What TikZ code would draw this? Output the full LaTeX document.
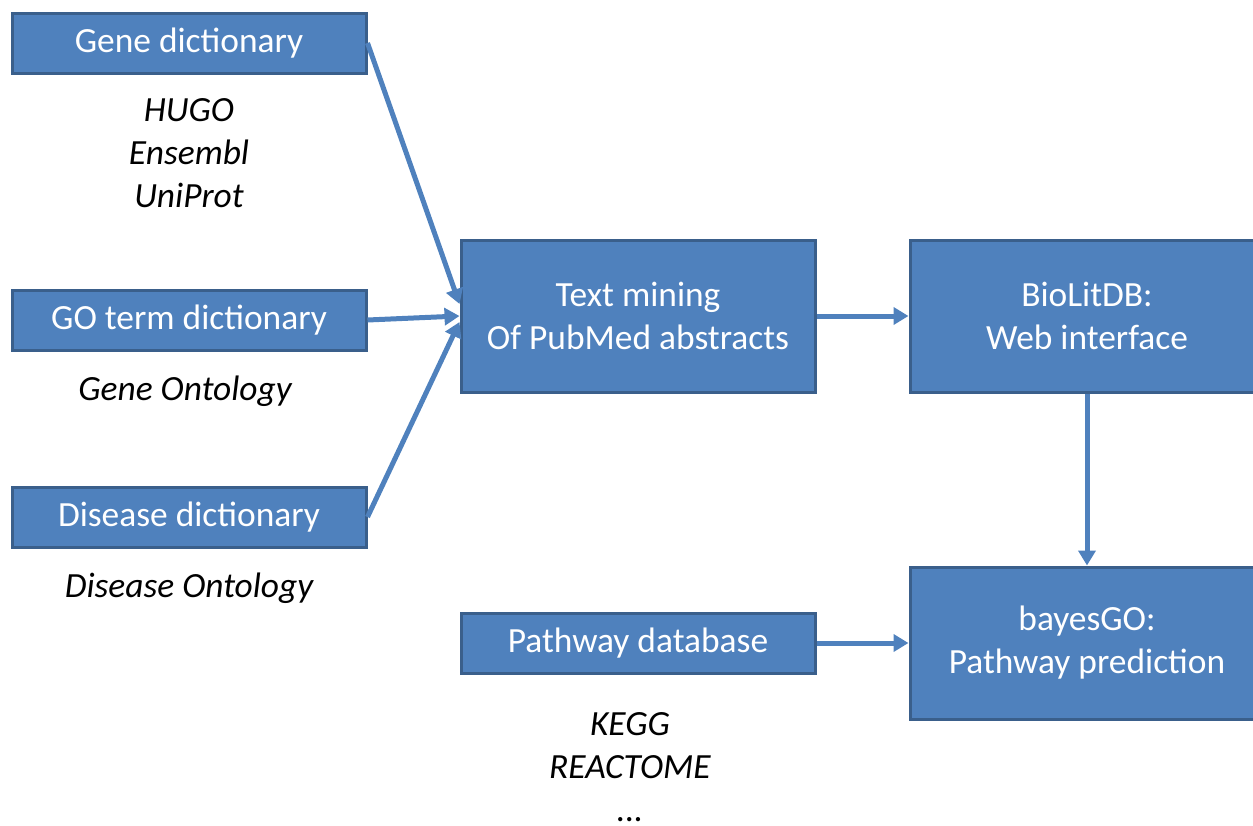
\documentclass[tikz,border=0pt]{standalone}
\usepackage{fontspec}
\setmainfont{Carlito}
\usetikzlibrary{arrows.meta, positioning}
\definecolor{boxblue}{HTML}{4F81BD}
\definecolor{boxedge}{HTML}{3A5F8B}

\begin{document}
\begin{tikzpicture}[x=0.5pt, y=-0.5pt,
  box/.style={draw=boxedge, fill=boxblue, line width=1.5pt, text=white,
    font=\fontsize{17.7}{21.5}\selectfont, align=center,
    minimum width=177pt, minimum height=30pt, inner sep=0pt},
  bigbox/.style={box, minimum height=76pt},
  source/.style={font=\fontsize{17.7}{21.5}\selectfont\itshape, align=center, inner sep=0pt},
  flow/.style={draw=boxblue, line width=2.5pt, -{Triangle[length=7.5pt, width=8.5pt]}}]
  \useasboundingbox (0,0) rectangle (1253,825);

  %Define nodes
  \node[box] (goterm) at (189,320) {GO term dictionary};
  \node[box, above=107pt of goterm] (gene) {Gene dictionary};
  \node[box, below=67pt of goterm] (disease) {Disease dictionary};
  \node[bigbox] (mining) at (638,316) {Text mining\\Of PubMed abstracts};
  \node[bigbox, right=46pt of mining] (biolit) {BioLitDB:\\Web interface};
  \node[bigbox, below=86pt of biolit] (bayes) {bayesGO:\\Pathway prediction};
  \node[box, left=46pt of bayes] (pathway) {Pathway database};

  % Sources under the dictionaries
  \node[source, below=12pt of gene] (genesrc) {HUGO\\Ensembl\\UniProt};
  \node[source, below=12pt of goterm, xshift=-2pt] (gosrc) {Gene Ontology};
  \node[source, below=12pt of disease] (dissrc) {Disease Ontology};
  \node[source, below=19pt of pathway, xshift=-4pt] (pathsrc) {KEGG\\REACTOME\\...};

  % Connect the nodes
  \draw[flow] (gene.east) -- ([yshift=6pt]mining.west);
  \draw[flow] (goterm.east) -- (mining.west);
  \draw[flow] (disease.east) -- ([yshift=-3pt]mining.west);
  \draw[flow] (mining) -- (biolit);
  \draw[flow] (biolit) -- (bayes);
  \draw[flow] (pathway) -- (bayes);

\end{tikzpicture}
\end{document}
